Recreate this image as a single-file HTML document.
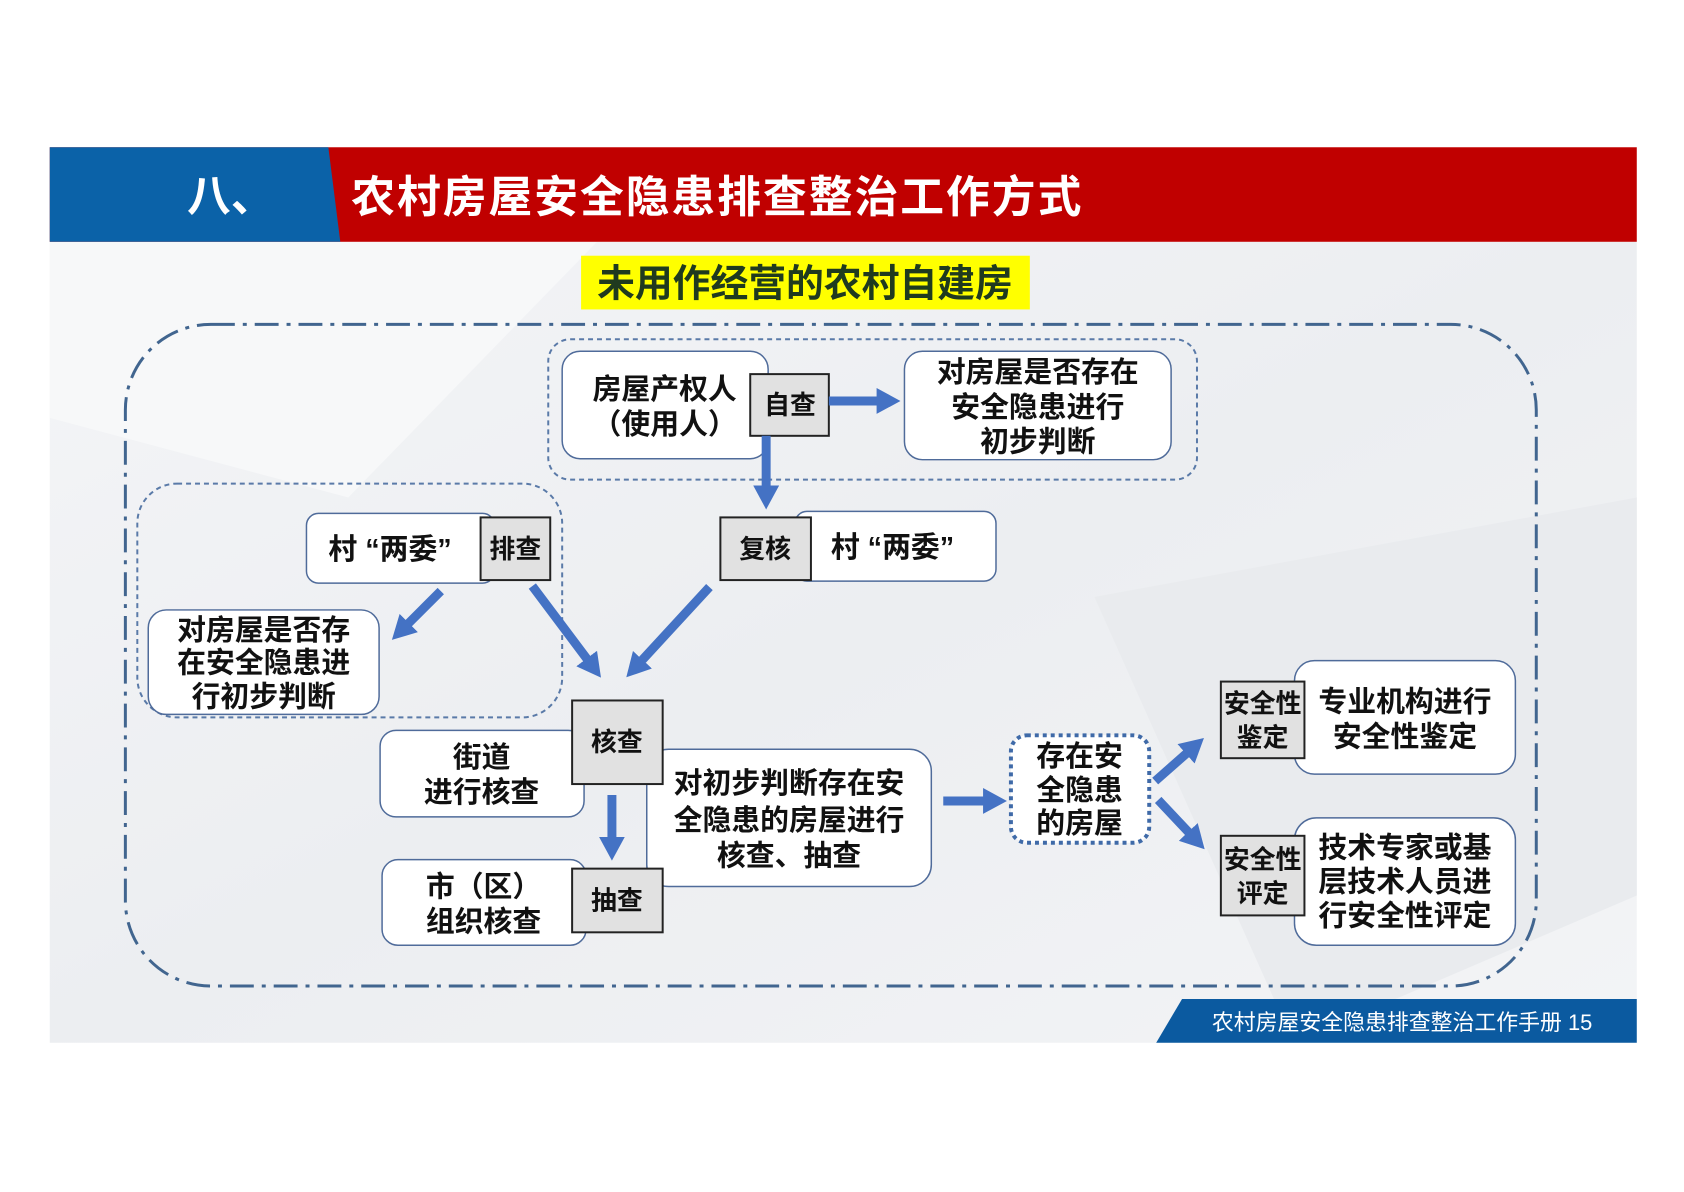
<!DOCTYPE html>
<html><head><meta charset="utf-8"><style>
html,body{margin:0;padding:0;background:#fff;}
svg{display:block;}
text{font-family:"Liberation Sans","Noto Sans CJK SC",sans-serif;font-weight:bold;}
</style></head><body>
<svg width="1684" height="1192" viewBox="0 0 1684 1192" xmlns="http://www.w3.org/2000/svg">
<defs>
<linearGradient id="bg" x1="0" y1="0" x2="1" y2="1">
<stop offset="0" stop-color="#f4f5f7"/><stop offset="0.5" stop-color="#eceef1"/><stop offset="1" stop-color="#f3f4f6"/>
</linearGradient>
<marker id="ah" markerUnits="userSpaceOnUse" markerWidth="26" markerHeight="26" refX="4" refY="13" orient="auto">
<path d="M0,0 L24,13 L0,26 Z" fill="#4472c4"/>
</marker>
</defs>
<g transform="scale(0.995)">
<rect x="50" y="243" width="1595" height="805" fill="url(#bg)"/>
<polygon points="50,243 600,243 350,500 50,420" fill="#f7f8f9"/>
<polygon points="1100,600 1645,500 1645,900 1300,1048" fill="#e9ebee"/>
<!-- header -->
<rect x="50" y="148" width="1595" height="95" fill="#c00000"/>
<polygon points="50,148 330,148 342,243 50,243" fill="#0b62a8"/>
<text x="188" y="212" font-size="44" fill="#fff">八、</text>
<text x="353" y="213" font-size="44" fill="#fff" letter-spacing="2">农村房屋安全隐患排查整治工作方式</text>
<!-- yellow title -->
<rect x="584" y="257" width="451" height="54" fill="#ffff00"/>
<text x="809" y="298" font-size="38" fill="#1f3a1f" text-anchor="middle">未用作经营的农村自建房</text>
<!-- big dash-dot frame -->
<rect x="126" y="326" width="1418" height="665" rx="86" fill="none" stroke="#41658f" stroke-width="3" stroke-dasharray="24,8,4,8"/>
<!-- dotted groups -->
<rect x="551" y="341" width="652" height="141" rx="22" fill="none" stroke="#5a7aa8" stroke-width="2" stroke-dasharray="5,4"/>
<rect x="138" y="486" width="427" height="235" rx="40" fill="none" stroke="#5a7aa8" stroke-width="2" stroke-dasharray="5,4"/>
<g stroke="#4f6b9a" stroke-width="1.5" fill="#fff">
<rect x="565" y="353" width="207" height="108" rx="18"/>
<rect x="909" y="353" width="268" height="109" rx="18"/>
<rect x="799" y="514" width="202" height="70" rx="12"/>
<rect x="308" y="516" width="189" height="70" rx="12"/>
<rect x="149" y="613" width="232" height="105" rx="18"/>
<rect x="382" y="734" width="205" height="87" rx="16"/>
<rect x="384" y="864" width="205" height="86" rx="16"/>
<rect x="650" y="753" width="286" height="138" rx="22"/>
<rect x="1301" y="664" width="222" height="114" rx="20"/>
<rect x="1301" y="822" width="222" height="128" rx="22"/>
</g>
<rect x="1016" y="739" width="139" height="108" rx="16" fill="#fff" stroke="#3f6aa8" stroke-width="4" stroke-dasharray="4,4"/>
<g stroke="#222" stroke-width="2" fill="#e1e1e1">
<rect x="754" y="376" width="79" height="62"/>
<rect x="724" y="520" width="91" height="63"/>
<rect x="483" y="520" width="70" height="63"/>
<rect x="575" y="704" width="91" height="84"/>
<rect x="575" y="873" width="91" height="64"/>
<rect x="1227" y="685" width="84" height="77"/>
<rect x="1227" y="840" width="84" height="80"/>
</g>
<!-- arrows -->
<g stroke="#4472c4" stroke-width="9" marker-end="url(#ah)" fill="none">
<line x1="833" y1="403" x2="885" y2="403"/>
<line x1="770" y1="438" x2="770" y2="492"/>
<line x1="443" y1="594" x2="408" y2="629"/>
<line x1="535" y1="589" x2="592" y2="665"/>
<line x1="713" y1="590" x2="643" y2="666"/>
<line x1="615" y1="799" x2="615" y2="845"/>
<line x1="948" y1="805" x2="992" y2="805"/>
<line x1="1161" y1="785" x2="1195" y2="755"/>
<line x1="1164" y1="804" x2="1197" y2="839"/>
</g>
<!-- texts -->
<g font-size="29" fill="#111" text-anchor="middle">
<text x="668" y="401">房屋产权人</text>
<text x="668" y="436">（使用人）</text>
<text x="1043" y="384">对房屋是否存在</text>
<text x="1043" y="419">安全隐患进行</text>
<text x="1043" y="454">初步判断</text>
<text x="897" y="560">村 “两委”</text>
<text x="392" y="562">村 “两委”</text>
<text x="265" y="643">对房屋是否存</text>
<text x="265" y="676">在安全隐患进</text>
<text x="265" y="710">行初步判断</text>
<text x="484" y="771">街道</text>
<text x="484" y="806">进行核查</text>
<text x="486" y="901">市（区）</text>
<text x="486" y="936">组织核查</text>
<text x="793" y="797">对初步判断存在安</text>
<text x="793" y="834">全隐患的房屋进行</text>
<text x="793" y="870">核查、抽查</text>
<text x="1085" y="770">存在安</text>
<text x="1085" y="804">全隐患</text>
<text x="1085" y="837">的房屋</text>
<text x="1412" y="715">专业机构进行</text>
<text x="1412" y="750">安全性鉴定</text>
<text x="1412" y="862">技术专家或基</text>
<text x="1412" y="896">层技术人员进</text>
<text x="1412" y="930">行安全性评定</text>
</g>
<g font-size="26" fill="#111" text-anchor="middle">
<text x="794" y="416">自查</text>
<text x="769" y="561">复核</text>
<text x="518" y="561">排查</text>
<text x="620" y="755">核查</text>
<text x="620" y="914">抽查</text>
<text x="1269" y="716">安全性</text>
<text x="1269" y="750">鉴定</text>
<text x="1269" y="873">安全性</text>
<text x="1269" y="907">评定</text>
</g>
<!-- footer -->
<polygon points="1188,1004 1645,1004 1645,1048 1162,1048" fill="#0b5aa0"/>
<text x="1218" y="1035" font-size="22" fill="#fff" style="font-weight:normal">农村房屋安全隐患排查整治工作手册 15</text>
</g>
</svg>
</body></html>
